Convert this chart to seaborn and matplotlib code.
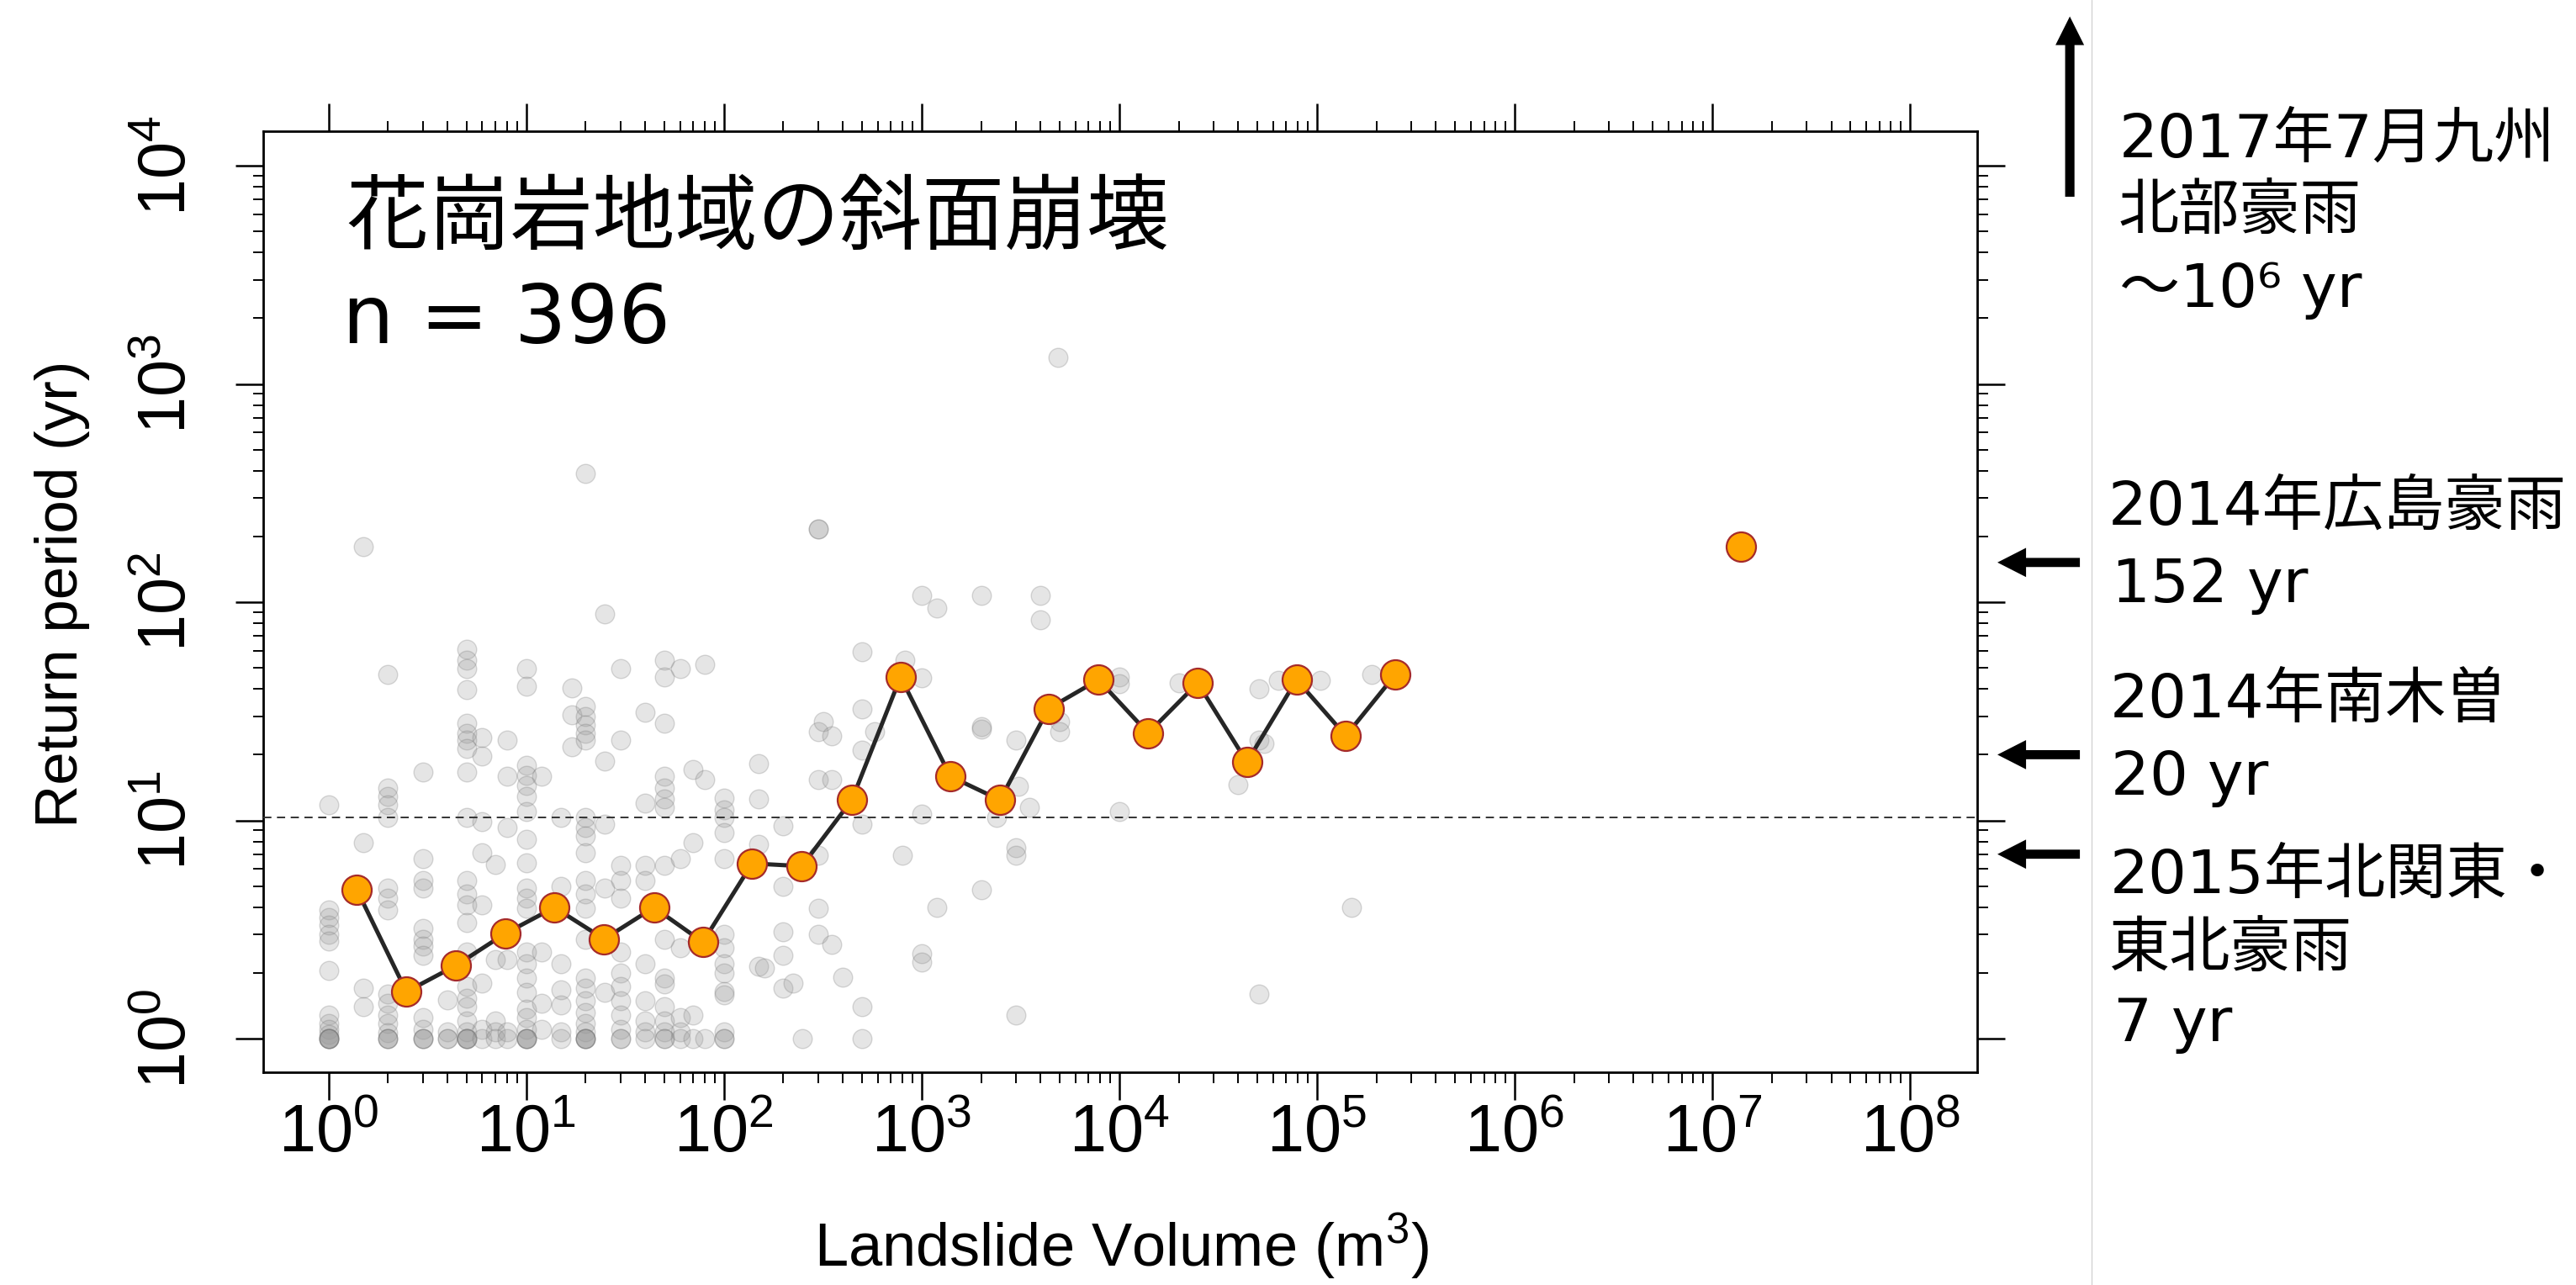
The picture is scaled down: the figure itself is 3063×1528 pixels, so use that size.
import numpy as np
import pandas as pd
import matplotlib
matplotlib.use("Agg")
import matplotlib.pyplot as plt
from matplotlib.ticker import FixedLocator, NullFormatter
from matplotlib.lines import Line2D
import seaborn as sns

# ---------------------------------------------------------------------------
# Individual slope failures: landslide volume (m^3) and return period (yr),
# grouped by the volume value of each column of points.
# ---------------------------------------------------------------------------
volume_columns = [1, 1.5, 2, 3, 4, 5, 6, 7, 8, 10, 12, 15, 17, 20, 25, 30, 40,
                  50, 60, 70, 80, 100, 150, 160, 200, 225, 250, 300, 320, 350,
                  400, 500, 580, 800, 820, 1000, 1200, 2000, 2400, 3000, 3100,
                  3500, 4000, 4900, 5000, 10000, 20000, 40000, 51000, 54000,
                  64000, 104000, 149000, 190000]

period_columns = [
    [11.8, 3.9, 3.6, 3.3, 3.0, 2.8, 2.06, 1.28, 1.17, 1.1, 1.05, 1, 1, 1, 1, 1],
    [180, 7.9, 1.7, 1.4],
    [46.8, 14.1, 12.9, 11.8, 10.3, 4.9, 4.4, 3.9, 1.6, 1.45, 1.28, 1.17, 1.06, 1, 1, 1],
    [16.6, 6.7, 5.3, 4.9, 3.2, 2.86, 2.65, 2.4, 1.25, 1.1, 1, 1, 1],
    [1.51, 1.07, 1, 1],
    [61, 54, 49.6, 39.7, 27.9, 25.1, 23.3, 21.3, 16.6, 10.3, 5.3, 4.6, 4.1, 3.4,
     2.5, 1.73, 1.53, 1.4, 1.21, 1.07, 1, 1, 1, 1],
    [24, 19.8, 9.9, 7.1, 4.1, 1.8, 1.1, 1],
    [6.3, 2.3, 1.21, 1.07, 1],
    [23.3, 15.9, 9.3, 3.0, 2.3, 1.07, 1],
    [49.6, 41, 17.9, 16.1, 14.5, 12.9, 11, 8.2, 6.4, 4.9, 4.4, 3.95, 2.5, 2.2,
     1.89, 1.63, 1.36, 1.25, 1.1, 1, 1, 1, 1],
    [15.9, 2.5, 1.45, 1.1],
    [10.3, 5, 2.2, 1.68, 1.43, 1.07, 1],
    [40.3, 30.4, 21.7],
    [387, 33.3, 30, 27.5, 25.1, 23.3, 10.3, 9.3, 8.5, 7.1, 5.3, 4.6, 3.95, 2.86,
     1.89, 1.7, 1.49, 1.32, 1.17, 1.07, 1, 1, 1, 1],
    [88, 18.7, 9.6, 4.9, 1.63],
    [49.6, 23.3, 6.2, 5.3, 4.4, 2.5, 2.0, 1.73, 1.49, 1.28, 1.1, 1, 1],
    [31.4, 12, 6.2, 5.3, 2.2, 1.49, 1.21, 1.07, 1],
    [54, 45.4, 27.9, 15.9, 14.1, 12.5, 11.5, 6.2, 2.86, 1.89, 1.78, 1.4, 1.21, 1.07, 1, 1],
    [49.6, 6.7, 2.6, 1.25, 1.07, 1],
    [17.1, 7.9, 1.28, 1],
    [52, 15.4, 1],
    [12.7, 11.2, 10.3, 8.8, 6.7, 3.0, 2.6, 2.2, 2.0, 1.65, 1.58, 1.07, 1, 1],
    [18.2, 12.5, 7.8, 2.15],
    [2.1],
    [9.4, 5.0, 3.1, 2.4, 1.7],
    [1.8],
    [1.0],
    [216, 216, 25.6, 15.4, 6.9, 3.96, 3.0],
    [28.4],
    [24.5, 15.4, 2.7],
    [1.92],
    [59, 32.3, 21, 9.6, 1.4, 1.0],
    [25.6],
    [6.9],
    [54],
    [107, 45, 10.7, 2.45, 2.25],
    [94, 4.0],
    [107, 26.9, 26.2, 4.8],
    [10.3],
    [23.3, 7.5, 6.9, 1.28],
    [14.3],
    [11.5],
    [107, 83],
    [1322],
    [28.4, 25.6],
    [45.4, 42.2, 11],
    [42.8],
    [14.6],
    [40, 23.3, 1.6],
    [22.6],
    [44],
    [44],
    [4.0],
    [46.8],
]

# Binned return period (one value per quarter decade of volume)
bin_volume = [1.39, 2.48, 4.40, 7.83, 13.9, 24.8, 44.3, 78.3, 139, 248, 444,
              783, 1400, 2495, 4385, 7850, 14000, 24950, 44260, 78890,
              140000, 250000]
bin_period = [4.82, 1.64, 2.16, 3.03, 3.99, 2.86, 3.99, 2.77, 6.35, 6.17, 12.4,
              45.4, 15.9, 12.4, 32.5, 44.1, 25.1, 42.6, 18.5, 44.1, 24.4, 46.7]

# Single very large event
extreme_volume = [1.4e7]
extreme_period = [180]

reference_period = 10.35

x_decades = [0, 1, 2, 3, 4, 5, 6, 7, 8]
y_decades = [0, 1, 2, 3, 4]

title_text = "花崗岩地域の斜面崩壊"
count_text = "n = 396"
x_title = r"Landslide Volume $\mathregular{(m^{3})}$"
y_title = "Return period (yr)"

# Recent heavy-rain disasters and their return periods
event_names = [["2014年広島豪雨"], ["2014年南木曽"], ["2015年北関東・", "東北豪雨"]]
event_periods = [152, 20, 7]
offscale_name = ["2017年7月九州", "北部豪雨"]
offscale_exponent = "⁶"

# ---------------------------------------------------------------------------
sns.set_theme(style="ticks")
plt.rcParams["font.family"] = ["Noto Sans CJK JP", "DejaVu Sans"]
plt.rcParams["axes.unicode_minus"] = False
for key in ["text.color", "axes.labelcolor", "xtick.color", "ytick.color",
            "axes.edgecolor"]:
    plt.rcParams[key] = "black"
sans = ["Liberation Sans", "DejaVu Sans"]

scatter_volume = []
scatter_period = []
for v, periods in zip(volume_columns, period_columns):
    scatter_volume += [v] * len(periods)
    scatter_period += list(periods)
points = pd.DataFrame({"volume": scatter_volume, "period": scatter_period})
bins = pd.DataFrame({"volume": bin_volume, "period": bin_period})
big = pd.DataFrame({"volume": bin_volume + extreme_volume,
                    "period": bin_period + extreme_period})

fig = plt.figure(figsize=(30.63, 15.28), dpi=100)
fig.patch.set_facecolor("white")
ax = fig.add_axes([0.10219, 0.16558, 0.66536, 0.73233])
ax.set_facecolor("white")
ax.set_xscale("log")
ax.set_yscale("log")

sns.scatterplot(data=points, x="volume", y="period", ax=ax, s=265,
                color="#999999", alpha=0.25, edgecolor="#6e6e6e",
                linewidth=1.0, zorder=2, legend=False)
ax.axhline(reference_period, color="#333333", lw=1.4, ls=(0, (5, 3.4)), zorder=3)
sns.lineplot(data=bins, x="volume", y="period", ax=ax, color="#262626",
             lw=3.6, sort=False, estimator=None, zorder=4, legend=False)
sns.scatterplot(data=big, x="volume", y="period", ax=ax, s=635,
                color="#FFA500", edgecolor="#A52A2A", linewidth=1.6,
                zorder=5, legend=False)

ax.set_xlim(10 ** -0.33, 10 ** 8.34)
ax.set_ylim(10 ** -0.154, 10 ** 4.158)

xt = [10.0 ** k for k in x_decades]
yt = [10.0 ** k for k in y_decades]
ax.set_xticks(xt, labels=[r"$\mathregular{10^{%d}}$" % k for k in x_decades],
              fontsize=57, fontfamily=sans)
ax.set_yticks(yt, labels=[r"$\mathregular{10^{%d}}$" % k for k in y_decades],
              fontsize=57, fontfamily=sans, rotation=90, va="center")
ax.xaxis.set_minor_locator(FixedLocator([m * 10.0 ** k for k in x_decades[:-1] for m in range(2, 10)]))
ax.yaxis.set_minor_locator(FixedLocator([m * 10.0 ** k for k in y_decades[:-1] for m in range(2, 10)]))
ax.xaxis.set_minor_formatter(NullFormatter())
ax.yaxis.set_minor_formatter(NullFormatter())

ax.tick_params(which="major", direction="out", length=24, width=1.8,
               top=True, right=True, labeltop=False, labelright=False,
               color="black", labelcolor="black")
ax.tick_params(which="minor", direction="out", length=9, width=1.4,
               top=True, right=True, color="black")
ax.tick_params(axis="x", which="major", pad=3)
ax.tick_params(axis="y", which="major", pad=30)

for sp in ax.spines.values():
    sp.set_visible(True)
    sp.set_linewidth(2.0)
    sp.set_color("black")

ax.set_xlabel(x_title, fontsize=52, fontfamily=sans, va="baseline", color="black")
ax.xaxis.set_label_coords(0.5005, -0.2055)
ax.set_ylabel(y_title, fontsize=51, fontfamily=sans, va="baseline", color="black")
ax.yaxis.set_label_coords(-0.1086, 0.508)

ax.text(0.0481, 0.8803, title_text, transform=ax.transAxes, fontsize=70.5,
        family=["Noto Sans CJK JP", "DejaVu Sans"], va="baseline", ha="left",
        color="black")
ax.text(0.0461, 0.7748, count_text, transform=ax.transAxes, fontsize=70,
        family=["DejaVu Sans"], va="baseline", ha="left", color="black")

# Arrows marking the return periods of recent events
simple = "simple,head_length=2.45,head_width=2.5,tail_width=0.78"
yblend = ax.get_yaxis_transform()
for p in event_periods:
    ax.annotate("", xy=(1.0118, p), xycoords=yblend, xytext=(1.0599, p),
                textcoords=yblend, annotation_clip=False,
                arrowprops=dict(arrowstyle=simple, mutation_scale=10,
                                color="black", lw=0, shrinkA=0, shrinkB=0))
ax.annotate("", xy=(0.8035, 0.9872), xycoords="figure fraction",
            xytext=(0.8035, 0.8469), textcoords="figure fraction",
            annotation_clip=False,
            arrowprops=dict(arrowstyle="simple,head_length=2.45,head_width=2.45,tail_width=0.8",
                            mutation_scale=10, color="black", lw=0,
                            shrinkA=0, shrinkB=0))

# Separator at the right of the plot area
fig.add_artist(Line2D([0.8119, 0.8119], [0, 1], transform=fig.transFigure,
                      color="#D2D2D2", lw=1.0))

# Event labels (Latin glyphs from DejaVu Sans, kana/kanji from Noto Sans CJK)
H = 1528.0
W = 3063.0
ann_font = dict(fontsize=52, family=["DejaVu Sans", "Noto Sans CJK JP"],
                va="baseline", ha="left", color="black")
off_lines = offscale_name + ["～10%s yr" % offscale_exponent]
off_pos = [(2520, 187), (2519, 273), (2520, 365)]
for txt, (px, py) in zip(off_lines, off_pos):
    fig.text(px / W, 1 - py / H, txt, **ann_font)

event_pos = [[(2507, 624), (2511, 716)],
             [(2509, 853), (2510, 945)],
             [(2509, 1062), (2507, 1150), (2513, 1238)]]
for names, p, pos in zip(event_names, event_periods, event_pos):
    lines = names + ["%d yr" % p]
    for txt, (px, py) in zip(lines, pos):
        fig.text(px / W, 1 - py / H, txt, **ann_font)

fig.savefig("out.png", dpi=100, facecolor="white")
